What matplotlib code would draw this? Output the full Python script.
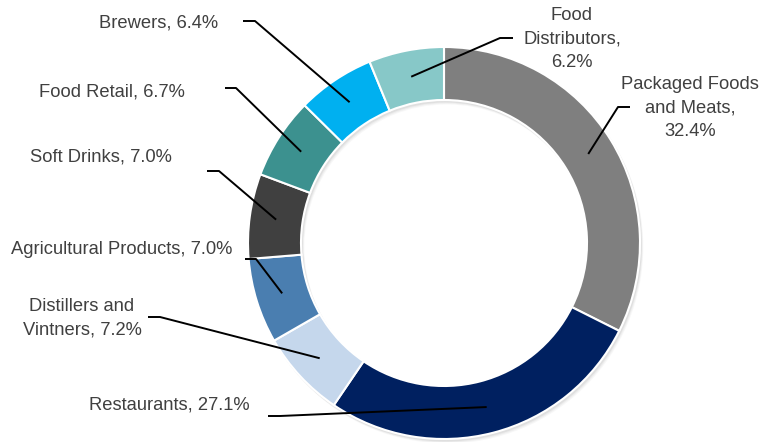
import numpy as np
import matplotlib.pyplot as plt
from matplotlib.patches import Wedge

plt.rcParams['font.family'] = ['Liberation Sans', 'DejaVu Sans']

categories = ["Packaged Foods and Meats", "Restaurants", "Distillers and Vintners",
              "Agricultural Products", "Soft Drinks", "Food Retail", "Brewers",
              "Food Distributors"]
shares = [32.4, 27.1, 7.2, 7.0, 7.0, 6.7, 6.4, 6.2]
colors = ["#7F7F7F", "#002060", "#C5D7EC", "#4A7EB0", "#404040", "#3C918F",
          "#00B0F0", "#87C8C8"]

# label layout in pixel coords: text pos, alignment, line wrap, leader elbow (x0, x1, y)
label_layout = {
    "Packaged Foods and Meats": ((690, 108), "center", "Packaged Foods\nand Meats,\n", (630, 618, 107)),
    "Restaurants": ((250, 405), "right", "Restaurants, ", (268, 280, 416)),
    "Distillers and Vintners": ((82, 318), "center", "Distillers and\nVintners, ", (148, 160, 317)),
    "Agricultural Products": ((232, 249), "right", "Agricultural Products, ", (245, 256, 259)),
    "Soft Drinks": ((172, 157), "right", "Soft Drinks, ", (207, 219, 171)),
    "Food Retail": ((185, 92), "right", "Food Retail, ", (225, 236, 88)),
    "Brewers": ((218, 23), "right", "Brewers, ", (243, 255, 21)),
    "Food Distributors": ((572, 39), "center", "Food\nDistributors,\n", (513, 500, 38)),
}

W, H = 775, 442
fig = plt.figure(figsize=(W / 100, H / 100), dpi=100)
ax = fig.add_axes([0, 0, 1, 1])

cx, cy = 444, H - 243
R, ring = 196, 53

# soft drop shadow behind the ring
for off, a in [(4, 0.06), (3, 0.08), (2, 0.12)]:
    ax.add_patch(Wedge((cx + off * 0.7, cy - off), R + 0.5, 0, 360, width=ring + 1,
                       facecolor='#808080', edgecolor='none', alpha=a, zorder=0))

wedges, _ = ax.pie(shares, colors=colors, startangle=90, counterclock=False,
                   radius=R, center=(cx, cy), frame=True,
                   wedgeprops=dict(width=ring, edgecolor='white', linewidth=1.5, zorder=1))
ax.set_xlim(0, W)
ax.set_ylim(0, H)
ax.set_aspect('equal')
ax.axis('off')

rmid = R - ring / 2
for w, name, val in zip(wedges, categories, shares):
    (tx, ty), ha, prefix, (x0, x1, ly) = label_layout[name]
    ang = np.deg2rad((w.theta1 + w.theta2) / 2)
    axp = cx + rmid * np.cos(ang)
    ayp = cy + rmid * np.sin(ang)
    ax.plot([x0, x1, axp], [H - ly, H - ly, ayp], color='black', lw=1.4,
            solid_capstyle='butt', zorder=5)
    ax.text(tx, H - ty, f"{prefix}{val:.1f}%", ha=ha, va='center',
            multialignment='center', fontsize=13.25, color='#404040',
            linespacing=1.47)

fig.savefig("out.png", dpi=100)
